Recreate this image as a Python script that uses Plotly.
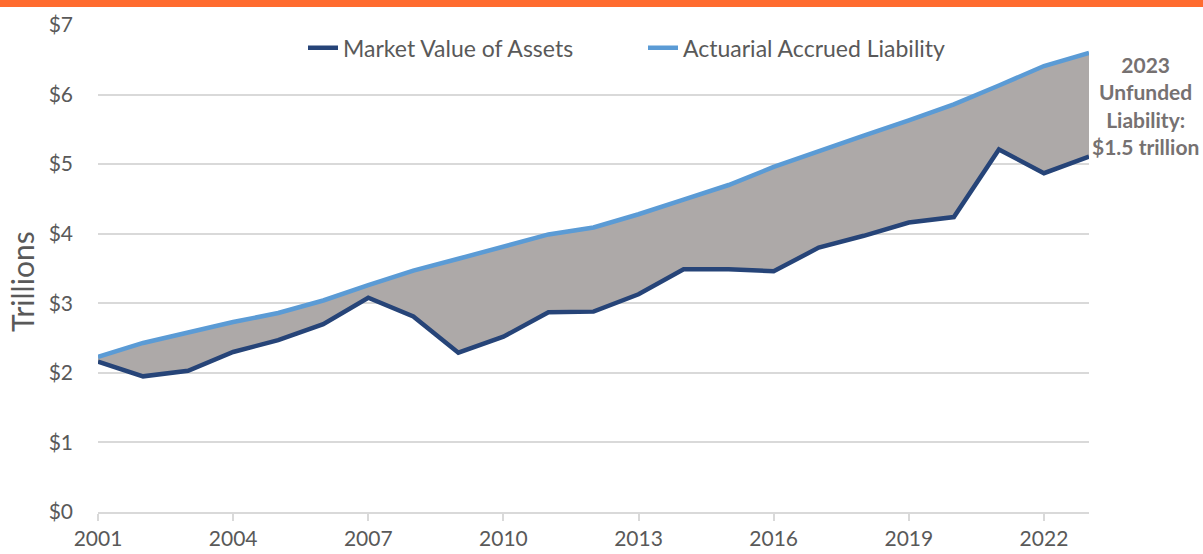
import plotly.graph_objects as go

years = list(range(2001, 2024))
market_value = [2.16, 1.95, 2.03, 2.30, 2.47, 2.70, 3.08, 2.81, 2.29, 2.52, 2.87, 2.88,
                3.13, 3.49, 3.49, 3.46, 3.80, 3.97, 4.16, 4.24, 5.21, 4.87, 5.11]
liability = [2.23, 2.43, 2.58, 2.73, 2.86, 3.04, 3.26, 3.47, 3.64, 3.82, 3.99, 4.09,
             4.28, 4.49, 4.70, 4.96, 5.19, 5.41, 5.63, 5.86, 6.13, 6.41, 6.60]
y_ticks = [0, 1, 2, 3, 4, 5, 6, 7]
y_labels = ["$0", "$1", "$2", "$3", "$4", "$5", "$6", "$7"]
x_ticks = [2001, 2004, 2007, 2010, 2013, 2016, 2019, 2022]
note = "<b>2023<br>Unfunded<br>Liability:<br>$1.5 trillion</b>"
y_title = "Trillions"

FONT = "Lato, 'Open Sans', sans-serif"
fig = go.Figure()
fig.add_trace(go.Scatter(x=years, y=market_value, mode="lines", line=dict(width=0),
                         showlegend=False, hoverinfo="skip"))
fig.add_trace(go.Scatter(x=years, y=liability, mode="lines", line=dict(width=0),
                         fill="tonexty", fillcolor="#ADA9A8", showlegend=False, hoverinfo="skip"))
fig.add_trace(go.Scatter(x=years, y=market_value, mode="lines", name="Market Value of Assets",
                         line=dict(color="#264478", width=4.5)))
fig.add_trace(go.Scatter(x=years, y=liability, mode="lines", name="Actuarial Accrued Liability",
                         line=dict(color="#5B9BD5", width=4.5)))

L, R, T, B = 98, 114, 25, 42
W, H = 1203, 554
pw, ph = W - L - R, H - T - B
fig.add_shape(type="rect", xref="paper", yref="paper",
              x0=-L / pw, x1=1 + R / pw, y0=1 + (T - 7) / ph, y1=1 + (T + 2) / ph,
              fillcolor="#FF6B2F", line=dict(width=0), layer="above")

fig.add_annotation(x=1 + 56 / pw, xref="paper", y=5.85, yref="y", text=note,
                   showarrow=False, align="center", xanchor="center", yanchor="middle",
                   font=dict(family=FONT, size=21, color="#767171"))
fig.add_annotation(x=-76 / pw, xref="paper", y=(H - B - 282) / ph, yref="paper",
                   text=y_title, textangle=-90, showarrow=False,
                   xanchor="center", yanchor="middle",
                   font=dict(family=FONT, size=30, color="#595959"))

fig.update_layout(
    width=W, height=H,
    margin=dict(l=L, r=R, t=T, b=B, autoexpand=False),
    paper_bgcolor="white", plot_bgcolor="white",
    font=dict(family=FONT, color="#595959", size=21),
    legend=dict(orientation="h", x=(303 - L) / pw, xanchor="left", y=0.953, yanchor="middle",
                traceorder="normal", entrywidth=295, entrywidthmode="pixels",
                font=dict(size=23, color="#595959"), bgcolor="rgba(0,0,0,0)",
                tracegroupgap=0),
    showlegend=True,
)
fig.update_xaxes(range=[2001, 2023], tickvals=x_ticks, showgrid=False, automargin=False,
                 showline=True, linecolor="#D9D9D9", linewidth=2,
                 ticks="outside", tickcolor="#D9D9D9", ticklen=7, tickwidth=1.5,
                 tickfont=dict(size=21, color="#595959"))
fig.update_yaxes(range=[0, 7], tickvals=y_ticks, ticktext=y_labels, automargin=False,
                 showgrid=True, gridcolor="#D9D9D9", gridwidth=1.5, zeroline=False,
                 ticks="", ticklabelstandoff=24,
                 tickfont=dict(size=21, color="#595959"))

fig.write_html("out.html", config={"displayModeBar": False},
               post_script="document.body.style.margin='0';")
